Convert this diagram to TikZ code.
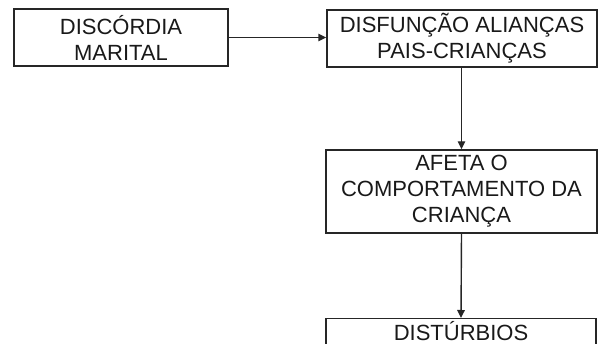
\documentclass[tikz,border=0pt]{standalone}
\usepackage{fontspec}
\setmainfont{Liberation Sans}
\usetikzlibrary{arrows.meta}
\begin{document}
\begin{tikzpicture}[x=1pt,y=-1pt,
  box/.style={draw=black!85, line width=1.4pt, inner sep=0pt, align=center,
    font=\fontsize{22}{26}\selectfont, text=black!90},
  conn/.style={draw=black!85, line width=1.4pt, -{Triangle[length=8pt,width=7.5pt]}}]
\useasboundingbox (0,0) rectangle (600,344);
\clip (0,0) rectangle (600,344);
\node[box, minimum width=214pt, minimum height=57pt] (a) at (121,37.5) {DISCÓRDIA\\MARITAL};
\node[box, minimum width=270pt, minimum height=57pt] (b) at (462,38.5) {DISFUNÇÃO ALIANÇAS\\PAIS-CRIANÇAS};
\node[box, minimum width=271pt, minimum height=83pt] (c) at (461.5,191.5) {AFETA O\\COMPORTAMENTO DA\\CRIANÇA};
\node[box, minimum width=270pt, minimum height=83pt, anchor=north] (d) at (461,318) {};
\node[font=\fontsize{22}{26}\selectfont, text=black!90, anchor=base] (dt) at (461,340.5) {DISTÚRBIOS};
\draw[conn] (a.east) -- (a.east -| b.west);
\draw[conn] (b.south -| c.north) -- (c.north);
\draw[conn] (c.south) -- (d.north);
\end{tikzpicture}
\end{document}
